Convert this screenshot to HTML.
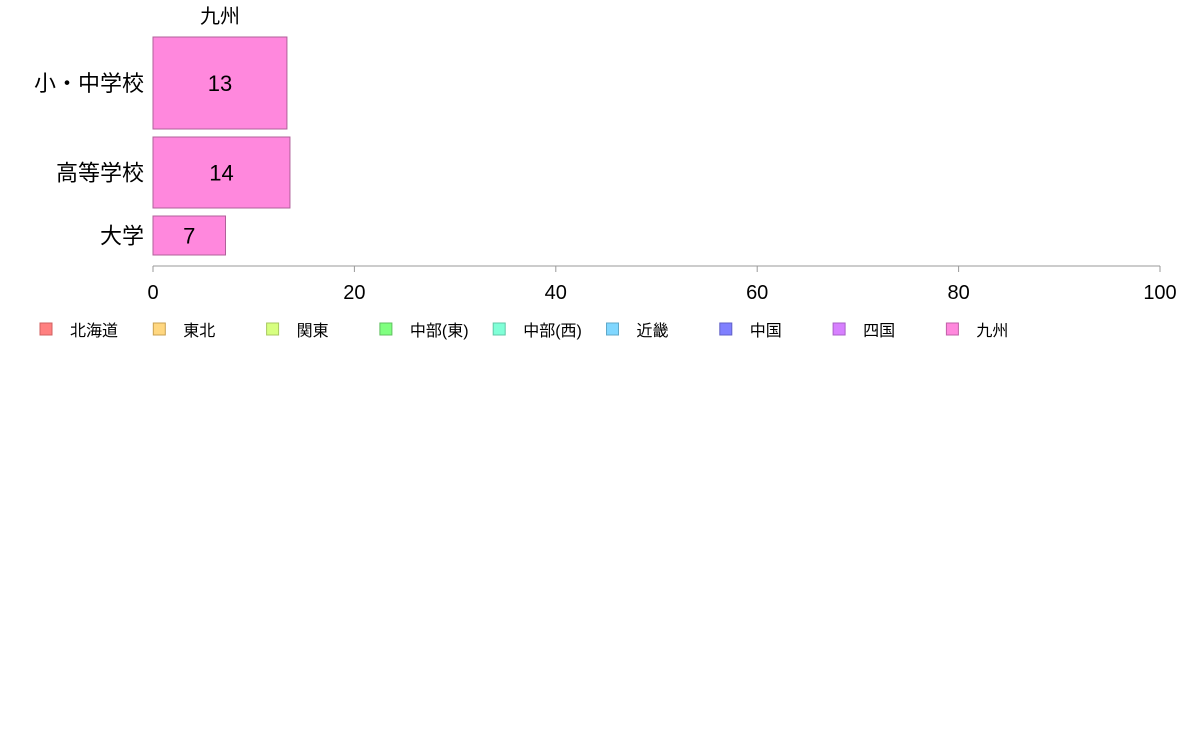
<!DOCTYPE html>
<html><head><meta charset="utf-8"><style>
body{margin:0;background:#fff;}
svg text{font-family:"Liberation Sans","Noto Sans CJK JP",sans-serif;}
</style></head><body>
<svg id="chart" width="1188" height="736"></svg>
<script>
const categories=["小・中学校","高等学校","大学"];
const values=[13.3,13.6,7.2];
const valueLabels=["13","14","7"];
const rowWeights=[92,71,39];
const ticks=[0,20,40,60,80,100];
const legendNames=["北海道","東北","関東","中部(東)","中部(西)","近畿","中国","四国","九州"];
const legendColors=["#FF8080","#FFD780","#D7FF80","#80FF80","#80FFD7","#80D7FF","#8080FF","#D780FF","#FF88DD"];
const legendBorders=["#d06060","#c8a050","#a8c860","#60c060","#60c8a8","#60a8c8","#6060c8","#a860c8","#c060a8"];

const svg=document.getElementById('chart');
const NS='http://www.w3.org/2000/svg';
function mk(t,a,txt){const e=document.createElementNS(NS,t);for(const k in a)e.setAttribute(k,a[k]);if(txt!==undefined)e.textContent=txt;svg.appendChild(e);return e;}
const x0=153,x1=1160,xMax=100;
const xs=v=>x0+(x1-x0)*v/xMax;
const yTop=37,gap=8;
const t=mk('text',{x:220,y:23,'font-size':20,'text-anchor':'middle',fill:'#000'},"九州");

let y=yTop;
categories.forEach((c,i)=>{
  const h=rowWeights[i];
  const r=mk('rect',{x:x0,y:y,width:xs(values[i])-x0,height:h,fill:'#FF88DD',stroke:'#b0609a','stroke-width':1});
  
  
  const l=mk('text',{x:(x0+xs(values[i]))/2,y:y+h/2+8,'font-size':22,'text-anchor':'middle',fill:'#000'},valueLabels[i]);
  
  
  const cl=mk('text',{x:144,y:y+h/2+8,'font-size':22,'text-anchor':'end',fill:'#000'},c);
  
  
  y+=h+gap;
});
const ax=mk('line',{x1:x0,x2:x1,y1:266,y2:266,stroke:'#999','stroke-width':1});

ticks.forEach(v=>{
  const tk=mk('line',{x1:xs(v),x2:xs(v),y1:266,y2:272,stroke:'#999'});
  
  
  const tl=mk('text',{x:xs(v),y:299,'font-size':20,'text-anchor':'middle',fill:'#000'},String(v));
  
  
});
legendNames.forEach((n,i)=>{
  const lx=40+i*113.3;
  const s=mk('rect',{x:lx,y:323,width:12,height:12,fill:legendColors[i],stroke:legendBorders[i]});
  
  
  const lt=mk('text',{x:lx+30,y:336,'font-size':16,fill:'#000'},n);
  
  
});
</script>
</body></html>
